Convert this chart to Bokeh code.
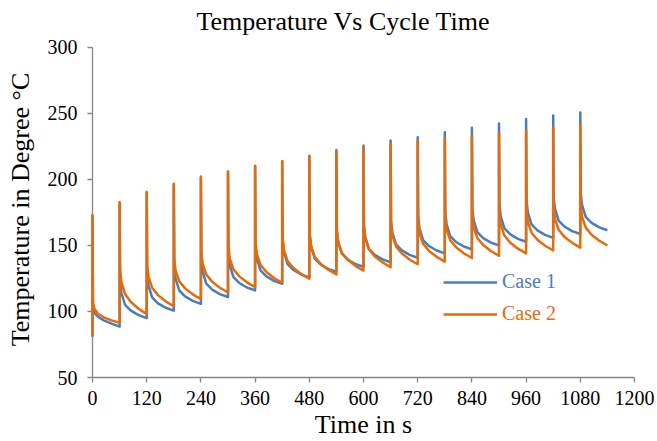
from bokeh.plotting import figure
from bokeh.models import FixedTicker, Legend, LegendItem, Range1d
from bokeh.embed import file_html
from bokeh.resources import INLINE

# ---- data ----
time_s = [
    0, 0, 1, 4, 12, 25, 42,
    60, 60, 61, 64, 72, 85, 102,
    120, 120, 121, 124, 132, 145, 162,
    180, 180, 181, 184, 192, 205, 222,
    240, 240, 241, 244, 252, 265, 282,
    300, 300, 301, 304, 312, 325, 342,
    360, 360, 361, 364, 372, 385, 402,
    420, 420, 421, 424, 432, 445, 462,
    480, 480, 481, 484, 492, 505, 522,
    540, 540, 541, 544, 552, 565, 582,
    600, 600, 601, 604, 612, 625, 642,
    660, 660, 661, 664, 672, 685, 702,
    720, 720, 721, 724, 732, 745, 762,
    780, 780, 781, 784, 792, 805, 822,
    840, 840, 841, 844, 852, 865, 882,
    900, 900, 901, 904, 912, 925, 942,
    960, 960, 961, 964, 972, 985, 1002,
    1020, 1020, 1021, 1024, 1032, 1045, 1062,
    1080, 1080, 1081, 1084, 1092, 1105, 1122,
    1140,
]

temp_case1 = [
    81, 172, 102.5, 99, 96, 93.3, 90.8,
    88.5, 182, 123, 114, 105.1, 100.6, 97.2,
    95, 189.5, 128.6, 119.6, 110.7, 106.2, 102.8,
    100.6, 195.8, 133.8, 124.8, 115.9, 111.4, 108,
    105.8, 201.3, 139, 130, 121.1, 116.6, 113.2,
    111, 205.5, 144, 135, 126.1, 121.6, 118.2,
    116, 210, 149, 140, 131.1, 126.6, 123.2,
    121, 213.6, 153.8, 144.8, 135.9, 131.4, 128,
    125.8, 218, 158, 149, 140.1, 135.6, 132.2,
    130, 222.3, 161.8, 152.8, 143.9, 139.4, 136,
    133.8, 225.7, 165.3, 156.3, 147.4, 142.9, 139.5,
    137.3, 229.5, 168.7, 159.7, 150.8, 146.3, 142.9,
    140.7, 232, 172, 163, 154.1, 149.6, 146.2,
    144, 235.8, 175, 166, 157.1, 152.6, 149.2,
    147, 239.2, 178, 169, 160.1, 155.6, 152.2,
    150, 242.3, 180.8, 171.8, 162.9, 158.4, 155,
    152.8, 245.8, 183.8, 174.8, 165.9, 161.4, 158,
    155.8, 248.5, 186.7, 177.7, 168.8, 164.3, 160.9,
    158.7, 250.7, 189.5, 180.5, 171.6, 167.1, 163.7,
    161.5,
]

temp_case2 = [
    81, 173, 106.5, 102.3, 98.3, 95.6, 93.3,
    91.5, 183, 132, 122.5, 113.3, 107.2, 102.1,
    98, 190.6, 135, 126.3, 118, 112.4, 107.7,
    104, 196.8, 139.4, 131, 122.9, 117.5, 113,
    109.4, 202.3, 144.4, 136, 127.9, 122.5, 118,
    114.4, 206.3, 148.5, 140.1, 132, 126.6, 122.1,
    118.5, 210.4, 151.8, 143.4, 135.3, 129.9, 125.4,
    121.8, 213.8, 154.8, 146.4, 138.3, 132.9, 128.4,
    124.8, 217.6, 158, 149.6, 141.5, 136.1, 131.6,
    128, 221, 161, 152.6, 144.5, 139.1, 134.6,
    131, 223.9, 163.6, 155.2, 147.1, 141.7, 137.2,
    133.6, 227, 165.8, 157.4, 149.3, 143.9, 139.4,
    135.8, 229.4, 167.8, 159.4, 151.3, 145.9, 141.4,
    137.8, 231.5, 170.5, 162.1, 154, 148.6, 144.1,
    140.5, 233, 172.2, 163.8, 155.7, 150.3, 145.8,
    142.2, 235.2, 174, 165.6, 157.5, 152.1, 147.6,
    144, 237, 176.2, 167.8, 159.7, 154.3, 149.8,
    146.2, 239, 178.4, 170, 161.9, 156.5, 152,
    148.4, 241, 180, 171.6, 163.5, 158.1, 153.6,
    150,
]

x_ticks = [0, 120, 240, 360, 480, 600, 720, 840, 960, 1080, 1200]
y_ticks = [50, 100, 150, 200, 250, 300]
series_names = ["Case 1", "Case 2"]

# ---- styling ----
FONT = "Liberation Serif"
BLUE = "#4A7EBB"
ORANGE = "#E46C0A"
AXIS_GREY = "#868686"

# the frame reaches a little above 300 so the title can sit higher;
# the y axis line itself is bounded to 50..300
p = figure(width=657, height=441, output_backend="svg", toolbar_location=None,
           x_range=Range1d(0, 1200), y_range=Range1d(50, 304.5),
           min_border_left=92, min_border_right=23,
           min_border_top=40, min_border_bottom=63)

p.title.text = "Temperature Vs Cycle Time"
p.title.text_font = FONT
p.title.text_font_size = "26px"
p.title.text_font_style = "normal"
p.title.text_color = "#000000"
p.title.align = "left"
p.title.vertical_align = "middle"
p.title.offset = 104

r1 = p.line(time_s, temp_case1, line_color=BLUE, line_width=2.5, line_join="round")
r2 = p.line(time_s, temp_case2, line_color=ORANGE, line_width=2.5, line_join="round")
r1.level = "overlay"
r2.level = "overlay"

p.xaxis.ticker = FixedTicker(ticks=x_ticks)
p.yaxis.ticker = FixedTicker(ticks=y_ticks)
p.yaxis.bounds = (50, 300)
p.xaxis.axis_label = "Time in s"
p.yaxis.axis_label = "Temperature in Degree °C"

for ax in (p.xaxis, p.yaxis):
    ax.axis_line_color = AXIS_GREY
    ax.axis_line_width = 1.3
    ax.major_tick_line_color = AXIS_GREY
    ax.major_tick_line_width = 1.3
    ax.major_tick_in = 0
    ax.major_tick_out = 5
    ax.minor_tick_line_color = None
    ax.major_label_text_font = FONT
    ax.major_label_text_font_size = "20px"
    ax.major_label_text_color = "#000000"
    ax.axis_label_text_font = FONT
    ax.axis_label_text_font_size = "26px"
    ax.axis_label_text_font_style = "normal"
    ax.axis_label_text_color = "#000000"

p.xaxis.major_label_standoff = 8
p.xaxis.axis_label_standoff = 2
p.yaxis.major_label_standoff = 10
p.yaxis.axis_label_standoff = 10

p.xgrid.visible = False
p.ygrid.visible = False
p.outline_line_color = None


def make_legend(name, renderer, color, loc):
    leg = Legend(items=[LegendItem(label=name, renderers=[renderer])],
                 location=loc, orientation="vertical",
                 label_text_font=FONT, label_text_font_size="20px",
                 label_text_color=color, glyph_width=54, glyph_height=22,
                 label_height=22, label_standoff=5, padding=0, margin=0,
                 spacing=0, border_line_color=None, background_fill_alpha=0)
    p.add_layout(leg)


make_legend(series_names[0], r1, BLUE, (351, 84))
make_legend(series_names[1], r2, ORANGE, (351, 52))

open("out.html", "w").write(file_html(p, INLINE))
